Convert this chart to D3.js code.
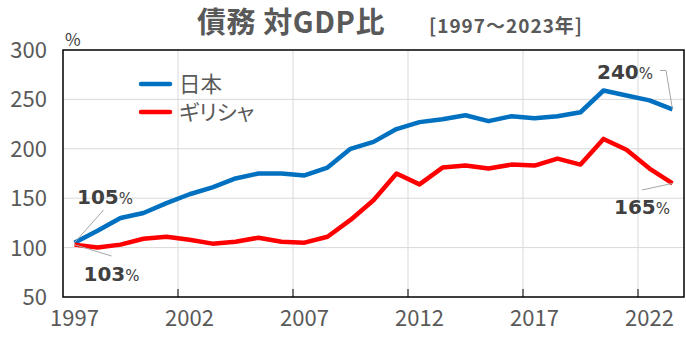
<!DOCTYPE html>
<html><head><meta charset="utf-8">
<script src="https://cdn.jsdelivr.net/npm/d3@7"></script>
<style>
body{margin:0;background:#fff;}
svg{display:block;}
text{font-family:"Noto Sans CJK JP","Noto Sans",sans-serif;}
</style></head>
<body>
<svg id="c" width="686" height="340"></svg>
<script>
const years = d3.range(1997, 2024);
const japan  = [105,117,130,135,145,154,161,170,175,175,173,181,200,207,220,227,230,234,228,233,231,233,237,259,254,249,240];
const greece = [103,100,103,109,111,108,104,106,110,106,105,111,128,148,175,164,181,183,180,184,183,190,184,210,199,180,165];
const yTicks = [50,100,150,200,250,300];
const xTickYears = [1997,2002,2007,2012,2017,2022];
const seriesNames = ["日本","ギリシャ"];
const colors = ["#0070C0","#FF0000"];

const svg = d3.select("#c");
const L=63, R=684, T=50, B=297;
const x = d3.scaleBand().domain(years).range([L,R]).padding(0);
const bw = x.bandwidth();
const cx = yr => x(yr)+bw/2;
const y = d3.scaleLinear().domain([50,300]).range([B,T]);

// gridlines
const g = svg.append("g");
g.selectAll(".hg").data(yTicks.filter(v=>v>50&&v<300)).join("line")
  .attr("x1",L).attr("x2",R).attr("y1",d=>y(d)).attr("y2",d=>y(d))
  .attr("stroke","#d9d9d9").attr("stroke-width",1);
g.selectAll(".vg").data(xTickYears.slice(1)).join("line")
  .attr("x1",d=>x(d)).attr("x2",d=>x(d)).attr("y1",T).attr("y2",B)
  .attr("stroke","#d9d9d9").attr("stroke-width",1);
// tick marks
g.selectAll(".tk").data(xTickYears.slice(1)).join("line")
  .attr("x1",d=>x(d)).attr("x2",d=>x(d)).attr("y1",B-8).attr("y2",B)
  .attr("stroke","#000").attr("stroke-width",1);
// frame
svg.append("rect").attr("x",L).attr("y",T).attr("width",R-L).attr("height",B-T)
  .attr("fill","none").attr("stroke","#000").attr("stroke-width",1.5);

// y labels
svg.selectAll(".yl").data(yTicks).join("text")
  .attr("x",47).attr("y",d=>y(d)).attr("dy","0.36em").attr("text-anchor","end")
  .attr("font-family","Noto Sans").attr("font-size",22).attr("fill","#595959").text(d=>d);
// x labels
svg.selectAll(".xl").data(xTickYears).join("text")
  .attr("x",d=>cx(d)).attr("y",326).attr("text-anchor","middle")
  .attr("font-family","Noto Sans").attr("font-size",22).attr("fill","#595959").text(d=>d);

// unit
svg.append("text").attr("x",65).attr("y",45.5).attr("font-family","Noto Sans")
  .attr("font-size",17).attr("fill","#404040").text("%");

// title
svg.append("text").attr("x",291).attr("y",33).attr("text-anchor","middle")
  .attr("font-size",29).attr("font-weight","bold").attr("letter-spacing",0.6)
  .attr("fill","#595959").text("債務 対GDP比");
svg.append("text").attr("x",429).attr("y",33)
  .attr("font-size",19).attr("font-weight","bold").attr("letter-spacing",1)
  .attr("fill","#595959").text("[1997～2023年]");

// lines
const line = d3.line().x((d,i)=>cx(years[i])).y(d=>y(d));
[japan,greece].forEach((s,k)=>{
  svg.append("path").datum(s).attr("d",line).attr("fill","none")
    .attr("stroke",colors[k]).attr("stroke-width",4.5).attr("stroke-linejoin","round");
});

// legend
const legY=[84,112];
seriesNames.forEach((n,k)=>{
  svg.append("line").attr("x1",141).attr("x2",170).attr("y1",legY[k]).attr("y2",legY[k])
    .attr("stroke",colors[k]).attr("stroke-width",4.5).attr("stroke-linecap","round");
  svg.append("text").attr("x",179).attr("y",legY[k]).attr("dy","0.36em")
    .attr("font-size",21.5).attr("fill","#595959").style("font-feature-settings","'palt'").text(n);
});

// annotations
const lead = "#a6a6a6";
function ann(xs, ys, num){
  const t = svg.append("text").attr("x",xs).attr("y",ys).attr("fill","#404040");
  t.append("tspan").attr("font-family","DejaVu Sans").attr("font-weight","bold").attr("font-size",20).text(num);
  t.append("tspan").attr("font-family","DejaVu Sans").attr("font-size",15).text("%");
}
const i0=0, iN=years.length-1;
svg.append("line").attr("x1",103.5).attr("y1",210).attr("x2",cx(1997)).attr("y2",y(japan[i0])).attr("stroke",lead);
svg.append("line").attr("x1",111.5).attr("y1",256).attr("x2",cx(1997)).attr("y2",y(greece[i0])).attr("stroke",lead);
svg.append("path").attr("d",`M660,70.5H666L${cx(2023)},${y(japan[iN])}`).attr("fill","none").attr("stroke",lead);
svg.append("line").attr("x1",642).attr("y1",190).attr("x2",cx(2023)).attr("y2",y(greece[iN])).attr("stroke",lead);
ann(77,203.5,japan[i0]);
ann(83.5,281,greece[i0]);
ann(597,78.5,japan[iN]);
ann(614,214,greece[iN]);
</script>
</body></html>
